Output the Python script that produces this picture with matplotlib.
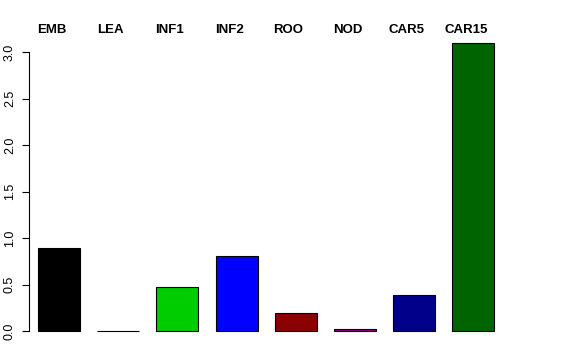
import matplotlib.pyplot as plt
import matplotlib.transforms as mtransforms
import numpy as np

# Data
tissues = ['EMB', 'LEA', 'INF1', 'INF2', 'ROO', 'NOD', 'CAR5', 'CAR15']
values = [0.89, 0.004, 0.47, 0.81, 0.19, 0.02, 0.39, 3.10]
colors = ['black', 'red', '#00CD00', '#0000FF', '#8B0000', '#8B008B', '#00008B', '#006400']

plt.rcParams['font.family'] = ['Liberation Sans', 'DejaVu Sans']

fig = plt.figure(figsize=(5.76, 3.6), dpi=100)
W, H = 576, 360
# plot region in pixels (R-like margins)
left, right, top, bottom = 28.5, 512, 31.5, 342.5
ax = fig.add_axes([left / W, (H - bottom) / H, (right - left) / W, (bottom - top) / H])

x = np.arange(len(tissues))
pitch = 59.2
ax.bar(x, values, width=42 / pitch, color=colors, edgecolor='black', linewidth=0.8)

ax.set_xlim((left - 59) / pitch, (right - 59) / pitch)
ax.set_ylim(-0.124, 3.224)

for s in ['top', 'right', 'bottom']:
    ax.spines[s].set_visible(False)
ax.spines['left'].set_bounds(0, 3.0)
ax.spines['left'].set_linewidth(0.8)
ax.set_xticks([])
ax.set_yticks(np.arange(0, 3.01, 0.5))
ax.set_yticklabels([f'{v:.1f}' for v in np.arange(0, 3.01, 0.5)],
                   rotation=90, va='center', fontsize=9)
ax.tick_params(axis='y', length=5, width=0.8, pad=4)

trans = mtransforms.blended_transform_factory(ax.transData, fig.transFigure)
for i, name in enumerate(tissues):
    ax.text(i - 7.5 / pitch, (H - 30) / H, name, transform=trans,
            ha='center', va='center', fontsize=9.5, fontweight='bold')

fig.savefig('out.png', dpi=100)
